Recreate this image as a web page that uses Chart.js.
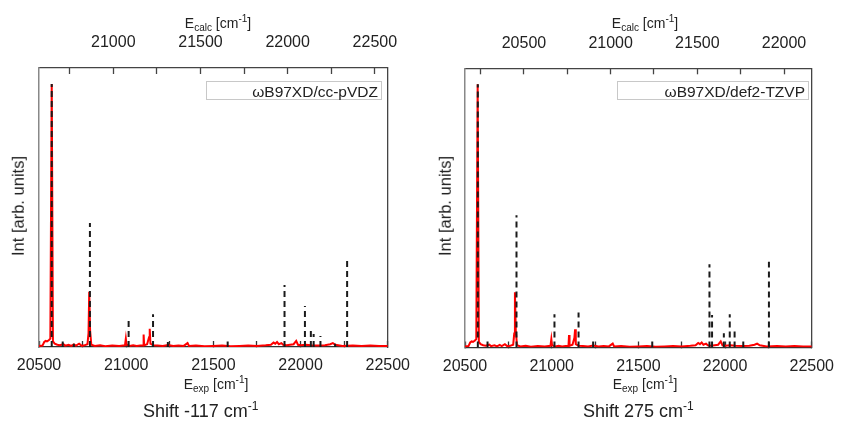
<!DOCTYPE html>
<html>
<head>
<meta charset="utf-8">
<script src="https://cdn.jsdelivr.net/npm/chart.js@4.4.1/dist/chart.umd.min.js"></script>
<style>
  body { margin: 0; background: #fff; font-family: Arial, "Liberation Sans", sans-serif; color: #222; }
  #wrap { position: relative; width: 849px; height: 425px; overflow: hidden; }
  canvas { position: absolute; top: 0; }
  #left { left: 0; }
  #right { left: 425px; }
  .lbl { position: absolute; white-space: nowrap; line-height: 1; }
  .axt { font-size: 14px; transform: translateX(-50%); }
  .sb { font-size: 10px; position: relative; top: 3px; }
  .sp { font-size: 10px; position: relative; top: -6px; }
  .shift { font-size: 18px; }
  .shift .sp { font-size: 12px; top: -7px; }
  .ytitle { font-size: 16.5px; transform: translate(-50%, -50%) rotate(-90deg); }
  .key { position: absolute; border: 1px solid #c8c8c8; box-sizing: border-box; height: 19px;
         font-size: 15.5px; line-height: 19px; text-align: right; padding-right: 3px; white-space: nowrap; }
</style>
</head>
<body>
<div id="wrap">
  <canvas id="left" width="425" height="425"></canvas>
  <canvas id="right" width="424" height="425"></canvas>

  <div class="lbl axt" style="left:218px; top:16px">E<span class="sb">calc</span> [cm<span class="sp">-1</span>]</div>
  <div class="lbl axt" style="left:645px; top:16px">E<span class="sb">calc</span> [cm<span class="sp">-1</span>]</div>
  <div class="lbl axt" style="left:216px; top:377px">E<span class="sb">exp</span> [cm<span class="sp">-1</span>]</div>
  <div class="lbl axt" style="left:645px; top:377px">E<span class="sb">exp</span> [cm<span class="sp">-1</span>]</div>
  <div class="lbl shift" style="left:143px; top:402px">Shift -117 cm<span class="sp">-1</span></div>
  <div class="lbl shift" style="left:583px; top:402px">Shift 275 cm<span class="sp">-1</span></div>
  <div class="lbl ytitle" style="left:18px; top:206px">Int [arb. units]</div>
  <div class="lbl ytitle" style="left:445px; top:206px">Int [arb. units]</div>

  <div class="key" style="left:206px; top:81px; width:176px">ωB97XD/cc-pVDZ</div>
  <div class="key" style="left:617px; top:81px; width:192px">ωB97XD/def2-TZVP</div>
</div>

<script>
// tick positions (labels only on multiples of 500)
const expTicks = [20500, 20750, 21000, 21250, 21500, 21750, 22000, 22250, 22500];
const calcTicksL = [20750, 21000, 21250, 21500, 21750, 22000, 22250, 22500];
const calcTicksR = [20250, 20500, 20750, 21000, 21250, 21500, 21750, 22000];
const calcRangeL = [20574, 22574];
const calcRangeR = [20160, 22160];

// experimental spectrum (red)
const expX = [20500, 20520, 20530, 20538, 20546, 20556, 20565, 20573, 20580, 20590,
  20605, 20620, 20640, 20650, 20670, 20685, 20700, 20712, 20730, 20745,
  20760, 20778, 20784, 20788, 20793, 20800, 20820, 20850, 20880, 20920,
  20960, 20993, 20998, 21002, 21020, 21040, 21060, 21080, 21097, 21100,
  21103, 21120, 21131, 21135, 21139, 21155, 21180, 21210, 21240, 21270,
  21300, 21330, 21352, 21360, 21400, 21450, 21500, 21550, 21600, 21650,
  21700, 21750, 21800, 21830, 21845, 21855, 21865, 21875, 21890, 21900,
  21920, 21940, 21960, 21975, 21985, 22000, 22030, 22060, 22100, 22140,
  22170, 22185, 22200, 22240, 22300, 22350, 22400, 22450, 22500];
const expY = [0.004, 0.005, 0.018, 0.022, 0.02, 0.024, 0.03, 0.943, 0.02, 0.012,
  0.008, 0.006, 0.01, 0.005, 0.008, 0.004, 0.009, 0.005, 0.012, 0.004,
  0.006, 0.01, 0.05, 0.198, 0.06, 0.008, 0.004, 0.006, 0.003, 0.005,
  0.004, 0.006, 0.03, 0.008, 0.004, 0.006, 0.004, 0.005, 0.006, 0.045,
  0.006, 0.01, 0.035, 0.065, 0.012, 0.006, 0.005, 0.004, 0.007, 0.004,
  0.005, 0.004, 0.014, 0.004, 0.005, 0.003, 0.004, 0.005, 0.003, 0.004,
  0.005, 0.004, 0.006, 0.008, 0.016, 0.012, 0.018, 0.01, 0.014, 0.008,
  0.006, 0.008, 0.01, 0.022, 0.008, 0.006, 0.008, 0.006, 0.005, 0.006,
  0.01, 0.014, 0.008, 0.004, 0.005, 0.004, 0.005, 0.004, 0.004];

// calculated sticks, cc-pVDZ (left)
const stickXL = [20573, 20636, 20700, 20792, 21014, 21154, 21239, 21582, 21908, 22025, 22059, 22075, 22114, 22198, 22267];
const stickYL = [0.943, 0.02, 0.012, 0.444, 0.106, 0.117, 0.018, 0.02, 0.222, 0.147, 0.067, 0.047, 0.039, 0.012, 0.309];

// calculated sticks, def2-TZVP (right)
const stickXR = [20574, 20630, 20797, 21016, 21155, 21239, 21580, 21910, 21925, 21993, 22027, 22055, 22105, 22253];
const stickYR = [0.943, 0.034, 0.474, 0.119, 0.125, 0.025, 0.025, 0.298, 0.116, 0.051, 0.119, 0.06, 0.03, 0.307];

function sticks(xs, ys) {
    const pts = [];
    xs.forEach((x, i) => {
        pts.push({ x: x, y: 0 }, { x: x, y: ys[i] }, { x: x, y: null });
    });
    return pts;
}

const tickFont = { family: 'Arial', size: 16 };
const label500 = v => (v % 500 === 0 ? String(v) : '');

function makeChart(id, stickX, stickY, calcRange, calcTicks, pad) {
    const ctx = document.getElementById(id).getContext('2d');
    return new Chart(ctx, {
        type: 'line',
        data: {
            datasets: [
                {
                    data: sticks(stickX, stickY),
                    borderColor: '#1a1a1a',
                    borderWidth: 2,
                    borderDash: [6, 4],
                    pointRadius: 0,
                    spanGaps: false,
                    xAxisID: 'x',
                    yAxisID: 'y'
                },
                {
                    data: expX.map((x, i) => ({ x: x, y: expY[i] })),
                    borderColor: '#ff0000',
                    borderWidth: 2,
                    pointRadius: 0,
                    tension: 0,
                    xAxisID: 'x',
                    yAxisID: 'y'
                }
            ]
        },
        options: {
            responsive: false,
            devicePixelRatio: 1,
            animation: false,
            events: [],
            layout: { padding: { left: pad.left, right: pad.right, top: 0, bottom: 0 } },
            plugins: { legend: { display: false }, tooltip: { enabled: false } },
            scales: {
                x: {
                    type: 'linear',
                    position: 'bottom',
                    min: 20500,
                    max: 22500,
                    afterBuildTicks: s => { s.ticks = expTicks.map(v => ({ value: v })); },
                    afterFit: s => { s.height = pad.bottom; },
                    ticks: { callback: label500, autoSkip: false, maxRotation: 0, font: tickFont, color: '#222', padding: 15 },
                    grid: { drawOnChartArea: false, drawTicks: true, tickLength: -6, tickColor: '#333', tickWidth: 1.3 },
                    border: { color: '#333', width: 1.3 }
                },
                x2: {
                    type: 'linear',
                    position: 'top',
                    min: calcRange[0],
                    max: calcRange[1],
                    afterBuildTicks: s => { s.ticks = calcTicks.map(v => ({ value: v })); },
                    afterFit: s => { s.height = pad.top; },
                    ticks: { callback: label500, autoSkip: false, maxRotation: 0, font: tickFont, color: '#222', padding: 21.4 },
                    grid: { drawOnChartArea: false, drawTicks: true, tickLength: -6, tickColor: '#444', tickWidth: 1.3 },
                    border: { color: '#444', width: 1.3 }
                },
                y: {
                    position: 'left',
                    min: 0,
                    max: 1,
                    afterFit: s => { s.width = 0; },
                    ticks: { display: false },
                    grid: { display: false },
                    border: { color: '#888', width: 1.5 }
                },
                y2: {
                    position: 'right',
                    min: 0,
                    max: 1,
                    afterFit: s => { s.width = 0; },
                    ticks: { display: false },
                    grid: { display: false },
                    border: { color: '#444', width: 1.3 }
                }
            }
        }
    });
}

makeChart('left', stickXL, stickYL, calcRangeL, calcTicksL, { left: 39, right: 28, top: 68, bottom: 78 });
makeChart('right', stickXR, stickYR, calcRangeR, calcTicksR, { left: 40, right: 24.7, top: 68.3, bottom: 77.5 });
</script>
</body>
</html>
